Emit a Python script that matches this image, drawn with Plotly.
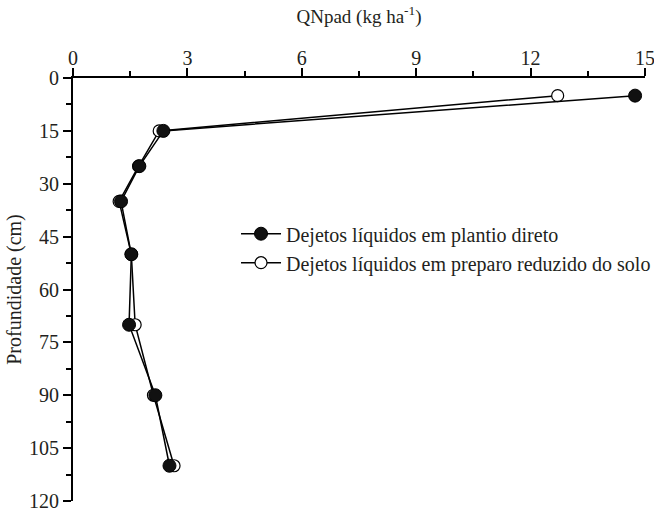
import plotly.graph_objects as go

depth = [5, 15, 25, 35, 50, 70, 90, 110]
plantio_direto = [14.74, 2.37, 1.74, 1.26, 1.53, 1.47, 2.16, 2.53]
preparo_reduzido = [12.71, 2.26, 1.72, 1.21, 1.53, 1.63, 2.11, 2.65]

name_pd = "Dejetos líquidos em plantio direto"
name_pr = "Dejetos líquidos em preparo reduzido do solo"

FONT = "Liberation Serif"
TXT = "#231f20"

fig = go.Figure()
fig.add_trace(go.Scatter(
    x=preparo_reduzido, y=depth, mode="lines+markers", name=name_pr,
    line=dict(color="black", width=1.5),
    marker=dict(symbol="circle", size=12, color="white", line=dict(color="black", width=1.2)),
))
fig.add_trace(go.Scatter(
    x=plantio_direto, y=depth, mode="lines+markers", name=name_pd,
    line=dict(color="black", width=1.5),
    marker=dict(symbol="circle", size=13, color="#111111", line=dict(color="black", width=1)),
))

fig.update_layout(
    width=654, height=508,
    margin=dict(l=73, r=9, t=78, b=7, autoexpand=False),
    paper_bgcolor="white", plot_bgcolor="white",
    font=dict(family=FONT, size=20, color=TXT),
    legend=dict(x=0.285, y=0.678, xanchor="left", yanchor="top",
                traceorder="reversed", bgcolor="rgba(0,0,0,0)",
                font=dict(family=FONT, size=20, color=TXT), itemwidth=40,
                tracegroupgap=0),
    showlegend=True,
)
fig.update_xaxes(
    side="top", range=[0, 15], tickvals=[0, 3, 6, 9, 12, 15],
    tickfont=dict(family=FONT, size=20, color=TXT),
    showline=True, linecolor="black", linewidth=2,
    ticks="outside", ticklen=8, tickwidth=1.5, tickcolor="black",
    minor=dict(ticks="outside", dtick=1.5, tick0=0, ticklen=5, tickwidth=1.5, tickcolor="black"),
    showgrid=False, zeroline=False, ticklabeloverflow="allow", automargin=False,
    ticklabelstandoff=-5,
    title=dict(text="QNpad (kg ha<sup>-1</sup>)", standoff=18, font=dict(family=FONT, size=19, color=TXT)),
    mirror=False,
)
fig.update_yaxes(
    range=[120, 0], tickvals=list(range(0, 121, 15)),
    tickfont=dict(family=FONT, size=20, color=TXT),
    showline=True, linecolor="black", linewidth=2,
    ticks="outside", ticklen=8, tickwidth=1.5, tickcolor="black",
    minor=dict(ticks="outside", dtick=7.5, tick0=0, ticklen=5, tickwidth=1.5, tickcolor="black"),
    showgrid=False, zeroline=False, ticklabeloverflow="allow", automargin=False,
    title=dict(text="Profundidade (cm)", standoff=2, font=dict(family=FONT, size=20, color=TXT)),
    mirror=False,
)

fig.write_html("out.html")
